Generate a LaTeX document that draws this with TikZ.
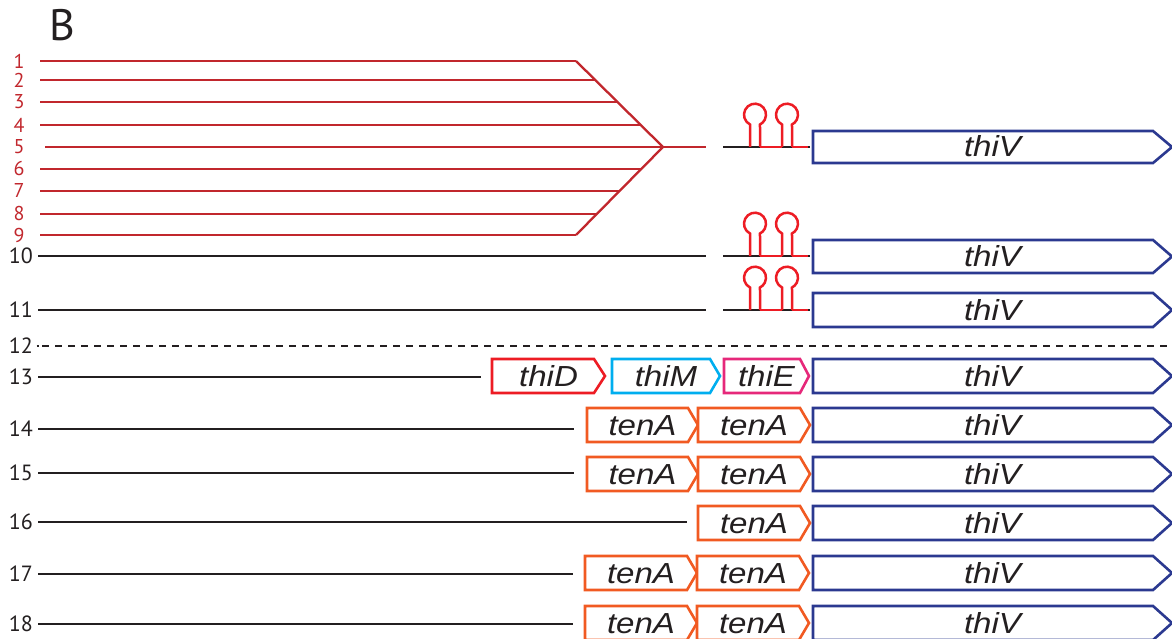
\documentclass[tikz,border=0pt]{standalone}
\usepackage{fontspec}
\setmainfont{Liberation Sans}
\newfontfamily\numfont{PT Sans}
\newfontfamily\genefont[FakeStretch=1.14]{Liberation Sans}
\definecolor{linered}{HTML}{C1272D}
\definecolor{hpred}{HTML}{ED1C24}
\definecolor{geneblue}{HTML}{2B3990}
\definecolor{geneorange}{HTML}{F15A22}
\definecolor{genecyan}{HTML}{00AEEF}
\definecolor{genepink}{HTML}{E6287A}
\definecolor{inkblack}{HTML}{231F20}
\tikzset{
  redtrack/.style={draw=linered, line width=2.3pt},
  blacktrack/.style={draw=inkblack, line width=2.3pt},
  hpstyle/.style={draw=hpred, line width=2.5pt},
  genebox/.style={line width=2.6pt, line join=miter, fill=white},
  genetext/.style={font=\genefont\itshape\fontsize{29}{30}\selectfont, text=inkblack, inner sep=0pt},
  rednum/.style={font=\numfont\fontsize{20}{20}\selectfont, text=linered, inner sep=0pt},
  blacknum/.style={font=\numfont\fontsize{22}{22}\selectfont, text=inkblack, inner sep=0pt},
}
\newcommand\gbox[8]{%
  \draw[genebox,draw=#7] (#2,-#5) -- (#3,-#5) -- (#4,{-(#5+#6)/2}) -- (#3,-#6) -- (#2,-#6) -- cycle;
  \node[genetext,anchor=base] (#1) at ({(#2+#4)/2},{-(#5+#6)/2-10}) {#8};}
\newcommand\hpin[2]{%
  \draw[hpstyle] (#1,-#2) -- (#1,{-#2+22.5}) arc[start angle=243,end angle=-63,radius=11] -- ({#1+10},-#2);}
\newcommand\terminator[2]{% #1 row name, #2 y
  \draw[blacktrack] (723,-#2) -- (810,-#2);
  \hpin{750}{#2}\hpin{782}{#2}
  \draw[hpstyle] (760,-#2) -- (782,-#2) (792,-#2) -- (808,-#2);}
\begin{document}
\begin{tikzpicture}[x=1pt,y=1pt]
\useasboundingbox (0,0) rectangle (1172,-639);
\node[font=\numfont\fontsize{44}{44}\selectfont, text=inkblack, inner sep=0pt] (panel) at (62,-25) {B};

% red lines 1-9
\foreach \n/\y/\xe in {1/61/576,2/80/595,3/102/617.5,4/125/640.7,6/169/641,7/191/619.5,8/214/596.8,9/235/576}{
  \node[rednum] (l\n) at (19,-\y) {\n};
  \draw[redtrack] (40,-\y) -- (\xe,-\y);
}
\node[rednum] (l5) at (19,-147) {5};
\draw[redtrack] (45,-147) -- (706,-147);
\draw[redtrack, line join=miter] (576,-61) -- (663,-147) -- (576,-235);
\terminator{r5}{147}
\gbox{g5}{813}{1153}{1172}{131}{163}{geneblue}{thiV}

% rows 10, 11
\node[blacknum,anchor=east] (l10) at (33,-256) {10};
\draw[blacktrack] (38,-256) -- (706,-256);
\terminator{r10}{256}
\gbox{g10}{813}{1153}{1172}{240}{273}{geneblue}{thiV}

\node[blacknum,anchor=east] (l11) at (33,-310) {11};
\draw[blacktrack] (38,-310) -- (706,-310);
\terminator{r11}{310}
\gbox{g11}{813}{1153}{1172}{293}{327}{geneblue}{thiV}

% row 12 dashed
\node[blacknum,anchor=east] (l12) at (33,-346) {12};
\draw[draw=inkblack, line width=2pt] (36.5,-346) -- (38.5,-346);
\draw[draw=inkblack, line width=2pt, dash pattern=on 7pt off 6pt] (42,-346) -- (1172,-346);

% row 13
\node[blacknum,anchor=east] (l13) at (33,-377) {13};
\draw[blacktrack] (38,-377) -- (481,-377);
\gbox{g13a}{492}{594}{605}{359}{393}{hpred}{thiD}
\gbox{g13b}{612}{710}{720}{359}{393}{genecyan}{thiM}
\gbox{g13c}{724}{800}{809}{359}{393}{genepink}{thiE}
\gbox{g13}{813}{1153}{1172}{359}{393}{geneblue}{thiV}

% row 14
\node[blacknum,anchor=east] (l14) at (33,-429) {14};
\draw[blacktrack] (38,-429) -- (574,-429);
\gbox{g14a}{587}{688}{698}{408}{442}{geneorange}{tenA}
\gbox{g14b}{698}{800}{810}{408}{442}{geneorange}{tenA}
\gbox{g14}{813}{1153}{1172}{408}{442}{geneblue}{thiV}

% row 15
\node[blacknum,anchor=east] (l15) at (33,-473) {15};
\draw[blacktrack] (38,-473) -- (574,-473);
\gbox{g15a}{587}{688}{698}{457}{491}{geneorange}{tenA}
\gbox{g15b}{698}{800}{810}{457}{491}{geneorange}{tenA}
\gbox{g15}{813}{1153}{1172}{457}{491}{geneblue}{thiV}

% row 16
\node[blacknum,anchor=east] (l16) at (33,-522) {16};
\draw[blacktrack] (38,-522) -- (687,-522);
\gbox{g16b}{698}{800}{810}{506}{540}{geneorange}{tenA}
\gbox{g16}{813}{1153}{1172}{506}{540}{geneblue}{thiV}

% row 17
\node[blacknum,anchor=east] (l17) at (33,-574) {17};
\draw[blacktrack] (38,-574) -- (573,-574);
\gbox{g17a}{585}{687}{697}{556}{590}{geneorange}{tenA}
\gbox{g17b}{697}{799}{809}{556}{590}{geneorange}{tenA}
\gbox{g17}{813}{1153}{1172}{556}{590}{geneblue}{thiV}

% row 18
\node[blacknum,anchor=east] (l18) at (33,-624) {18};
\draw[blacktrack] (38,-624) -- (573,-624);
\gbox{g18a}{585}{687}{697}{606}{640}{geneorange}{tenA}
\gbox{g18b}{697}{799}{809}{606}{640}{geneorange}{tenA}
\gbox{g18}{813}{1153}{1172}{606}{640}{geneblue}{thiV}
\end{tikzpicture}
\end{document}
